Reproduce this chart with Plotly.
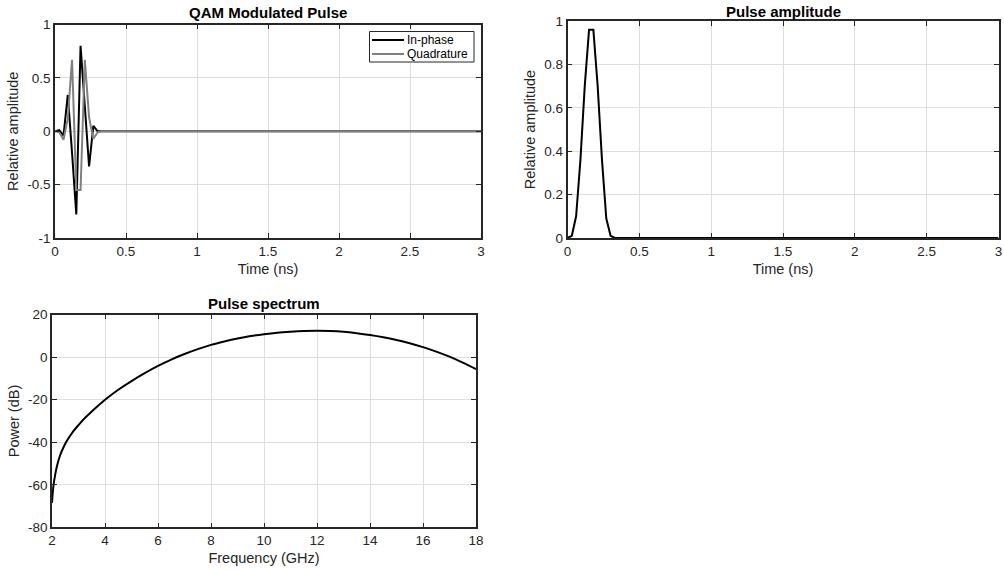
import plotly.graph_objects as go

# ---- Pulse samples (time in ns) ----
pulse_time_ns = [0.00, 0.03, 0.06, 0.09, 0.12, 0.15, 0.18, 0.21, 0.24, 0.27, 0.30, 0.33, 3.00]
in_phase = [0.00, 0.01, -0.04, 0.34, -0.20, -0.78, 0.80, 0.22, -0.33, 0.05, 0.00, 0.00, 0.00]
quadrature = [0.00, -0.01, -0.08, 0.12, 0.67, -0.55, -0.55, 0.67, 0.13, -0.07, -0.01, 0.00, 0.00]
amplitude = [0.00, 0.01, 0.10, 0.36, 0.70, 0.96, 0.96, 0.70, 0.36, 0.09, 0.01, 0.00, 0.00]

# ---- Pulse spectrum ----
freq_ghz = [2.0, 2.03, 2.06, 2.12, 2.19, 2.31, 2.4, 2.54, 2.8, 3.0, 3.25, 3.5, 3.75, 4.0,
            4.5, 5.0, 5.5, 6.0, 6.5, 7.0, 7.5, 8.0, 8.5, 9.0, 9.5, 10.0, 10.5, 11.0, 11.5,
            12.0, 12.5, 13.0, 13.5, 14.0, 14.5, 15.0, 15.5, 16.0, 16.5, 17.0, 17.5, 18.0]
power_db = [-68.5, -63.5, -60.0, -55.2, -51.0, -46.0, -43.3, -39.8, -34.9, -31.9, -28.5, -25.5,
            -22.7, -20.0, -15.3, -11.2, -7.5, -4.1, -1.1, 1.5, 3.8, 5.8, 7.4, 8.8, 9.95, 10.85,
            11.55, 12.0, 12.3, 12.4, 12.3, 11.95, 11.3, 10.45, 9.4, 8.1, 6.55, 4.75, 2.65, 0.25,
            -2.55, -5.6]

# ---- Tick labels ----
time_ticks = [0, 0.5, 1, 1.5, 2, 2.5, 3]
time_tick_text = ["0", "0.5", "1", "1.5", "2", "2.5", "3"]
iq_ticks = [-1, -0.5, 0, 0.5, 1]
iq_tick_text = ["-1", "-0.5", "0", "0.5", "1"]
amp_ticks = [0, 0.2, 0.4, 0.6, 0.8, 1]
amp_tick_text = ["0", "0.2", "0.4", "0.6", "0.8", "1"]
freq_ticks = [2, 4, 6, 8, 10, 12, 14, 16, 18]
freq_tick_text = ["2", "4", "6", "8", "10", "12", "14", "16", "18"]
power_ticks = [-80, -60, -40, -20, 0, 20]
power_tick_text = ["-80", "-60", "-40", "-20", "0", "20"]

W, H = 1004, 570
FONT = "Liberation Sans, Arial, Helvetica, sans-serif"
INK = "#262626"


def px_x(a, b):
    return [a / W, b / W]


def px_y(top, bottom):
    return [1 - bottom / H, 1 - top / H]


fig = go.Figure()

fig.add_trace(go.Scatter(x=pulse_time_ns, y=in_phase, name="In-phase", mode="lines",
                         line=dict(color="#000000", width=2), xaxis="x", yaxis="y"))
fig.add_trace(go.Scatter(x=pulse_time_ns, y=quadrature, name="Quadrature", mode="lines",
                         line=dict(color="#808080", width=2), xaxis="x", yaxis="y"))
fig.add_trace(go.Scatter(x=pulse_time_ns, y=amplitude, mode="lines",
                         line=dict(color="#000000", width=2), xaxis="x2", yaxis="y2"))
fig.add_trace(go.Scatter(x=freq_ghz, y=power_db, mode="lines",
                         line=dict(color="#000000", width=2, shape="spline", smoothing=0.9),
                         xaxis="x3", yaxis="y3"))

axis_style = dict(
    showline=True, linecolor=INK, linewidth=1.5, mirror="ticks",
    ticks="inside", ticklen=5, tickwidth=1, tickcolor=INK,
    showgrid=True, gridcolor="#dedede", gridwidth=1, zeroline=False,
    automargin=False,
    tickfont=dict(family=FONT, size=13.5, color=INK),
    title_font=dict(family=FONT, size=14.5, color=INK),
)

fig.update_layout(
    width=W, height=H,
    margin=dict(l=0, r=0, t=0, b=0, autoexpand=False),
    paper_bgcolor="white", plot_bgcolor="white",
    font=dict(family=FONT, color=INK),
    showlegend=False,
    xaxis=dict(axis_style, domain=px_x(55, 481), range=[0, 3], anchor="y",
               tickvals=time_ticks, ticktext=time_tick_text,
               title=dict(text="Time (ns)", standoff=6)),
    yaxis=dict(axis_style, domain=px_y(24.5, 238), range=[-1, 1], anchor="x",
               tickvals=iq_ticks, ticktext=iq_tick_text,
               title=dict(text="Relative amplitude", standoff=5)),
    xaxis2=dict(axis_style, domain=px_x(567.5, 998.5), range=[0, 3], anchor="y2",
                tickvals=time_ticks, ticktext=time_tick_text,
                title=dict(text="Time (ns)", standoff=6)),
    yaxis2=dict(axis_style, domain=px_y(21, 238), range=[0, 1], anchor="x2",
                tickvals=amp_ticks, ticktext=amp_tick_text,
                title=dict(text="Relative amplitude", standoff=5)),
    xaxis3=dict(axis_style, domain=px_x(52, 476), range=[2, 18], anchor="y3",
                tickvals=freq_ticks, ticktext=freq_tick_text,
                title=dict(text="Frequency (GHz)", standoff=6)),
    yaxis3=dict(axis_style, domain=px_y(314.7, 527.3), range=[-80, 20], anchor="x3",
                tickvals=power_ticks, ticktext=power_tick_text,
                title=dict(text="Power (dB)", standoff=5)),
)

# Panel titles
titles = [
    ("QAM Modulated Pulse", (55 + 481) / 2, 13),
    ("Pulse amplitude", (567.5 + 998.5) / 2, 11.5),
    ("Pulse spectrum", (52 + 476) / 2, 303.5),
]
for text, cx, cy in titles:
    fig.add_annotation(text=f"<b>{text}</b>", x=cx / W, y=1 - cy / H, xref="paper", yref="paper",
                       xanchor="center", yanchor="middle", showarrow=False,
                       font=dict(family=FONT, size=15, color="#000000"))

# Legend box for the I/Q panel, in the upper-right corner of that axes
legend_entries = [("In-phase", "#000000", 40.0), ("Quadrature", "#808080", 54.0)]
fig.add_shape(type="rect", xref="paper", yref="paper",
              x0=369.5 / W, x1=474 / W, y0=1 - 62 / H, y1=1 - 31.5 / H,
              line=dict(color=INK, width=1), fillcolor="white", layer="above")
for label, color, yc in legend_entries:
    fig.add_shape(type="line", xref="paper", yref="paper",
                  x0=372 / W, x1=404 / W, y0=1 - yc / H, y1=1 - yc / H,
                  line=dict(color=color, width=2), layer="above")
    fig.add_annotation(text=label, x=406 / W, y=1 - yc / H, xref="paper", yref="paper",
                       xanchor="left", yanchor="middle", showarrow=False, borderpad=0,
                       font=dict(family=FONT, size=12, color="#000000"))

fig.write_html("out.html")
